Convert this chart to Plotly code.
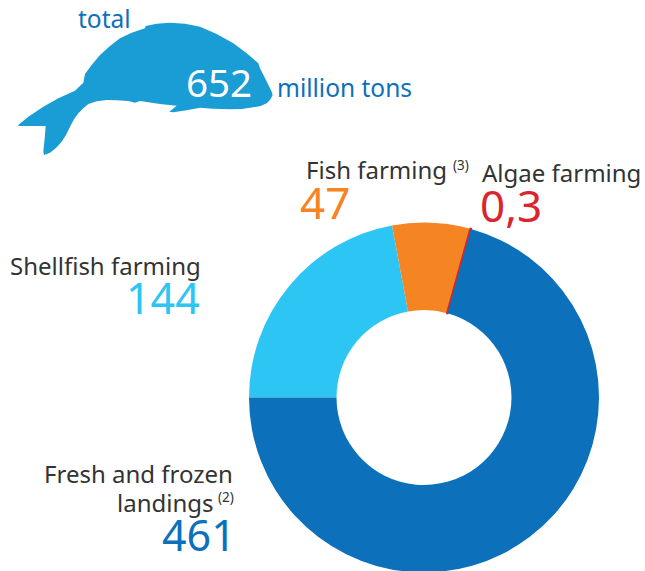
import plotly.graph_objects as go

W, H = 645, 573
FONT = "Noto Sans"

categories = ["Shellfish farming", "Fish farming", "Algae farming", "Fresh and frozen landings"]
values = [144, 47, 0.3, 461]
value_labels = ["144", "47", "0,3", "461"]
slice_colors = ["#2dc5f4", "#f58423", "#d9252e", "#0c70ba"]
TEXT = "#333333"
BLUE = "#0c70ba"
FISH = "#1a9cd4"

# fish silhouette, decorative (3x zoom coordinates)
fish = [(55,375),(85,350),(130,320),(175,295),(225,272),(250,248),(255,222),(275,195),(300,165),(330,138),(360,115),
        (395,98),(435,85),(437,78),(470,71),(510,68),(555,71),(600,80),(650,102),(700,130),(740,160),(775,190),(780,205),
        (798,240),(815,275),(818,285),(810,300),(800,310),(782,318),(760,322),(725,327),(690,328),(640,326),(600,323),
        (560,331),(520,337),(508,335),(530,317),(480,312),(420,303),(405,308),(385,303),(350,301),(320,300),(290,304),(265,312),
        (250,325),(235,340),(222,358),(210,380),(198,405),(185,425),(168,444),(150,458),(132,465),(130,455),(134,415),(137,378),
        (90,378),(55,378)]

def px(x): return x / W
def py(y): return 1 - y / H

path = "M " + " L ".join(f"{px(x/3):.5f},{py(y/3):.5f}" for x, y in fish) + " Z"

fig = go.Figure()
fig.add_trace(go.Pie(
    labels=categories, values=values, sort=False, direction="clockwise", rotation=270,
    hole=0.5, textinfo="none", hoverinfo="label+value", showlegend=False,
    marker=dict(colors=slice_colors, line=dict(color=["rgba(0,0,0,0)","rgba(0,0,0,0)","#d9252e","rgba(0,0,0,0)"], width=[0,0,2.4,0])),
    domain=dict(x=[px(249), px(599)], y=[0, py(222)]),
))

def note(text, x, y, size, color, anchor="left", weight=400):
    fig.add_annotation(text=text, x=px(x), y=py(y), xref="paper", yref="paper", showarrow=False,
                       xanchor=anchor, yanchor="middle", font=dict(family=FONT, size=size, color=color, weight=weight),
                       borderpad=0, borderwidth=0)

note("total", 78, 18, 24.5, BLUE)
note("652", 186, 82, 38.5, "#ffffff")
note("million tons", 277, 88, 24.5, BLUE)
note(categories[1], 306, 169, 24, TEXT)
note("(3)", 453, 165, 13.5, TEXT)
note(value_labels[1], 300, 202, 44, slice_colors[1])
note(categories[2], 482, 172, 24, TEXT)
note(value_labels[2], 480, 205, 44, slice_colors[2])
note(categories[0], 201, 265, 24, TEXT, "right")
note(value_labels[0], 200, 297, 43, slice_colors[0], "right")
note("Fresh and frozen", 233, 473, 24, TEXT, "right")
note("landings", 214, 502, 24, TEXT, "right")
note("(2)", 234, 497, 13.5, TEXT, "right")
note(value_labels[3], 236, 534, 43, slice_colors[3], "right")

fig.update_layout(
    width=W, height=H, margin=dict(l=0, r=0, t=0, b=0),
    paper_bgcolor="white", plot_bgcolor="white",
    shapes=[dict(type="path", path=path, xref="paper", yref="paper", fillcolor=FISH, line=dict(width=0), layer="below")],
)
fig.write_html("out.html", config=dict(displayModeBar=False),
               post_script="document.body.style.margin='0';document.body.style.overflow='hidden';")
